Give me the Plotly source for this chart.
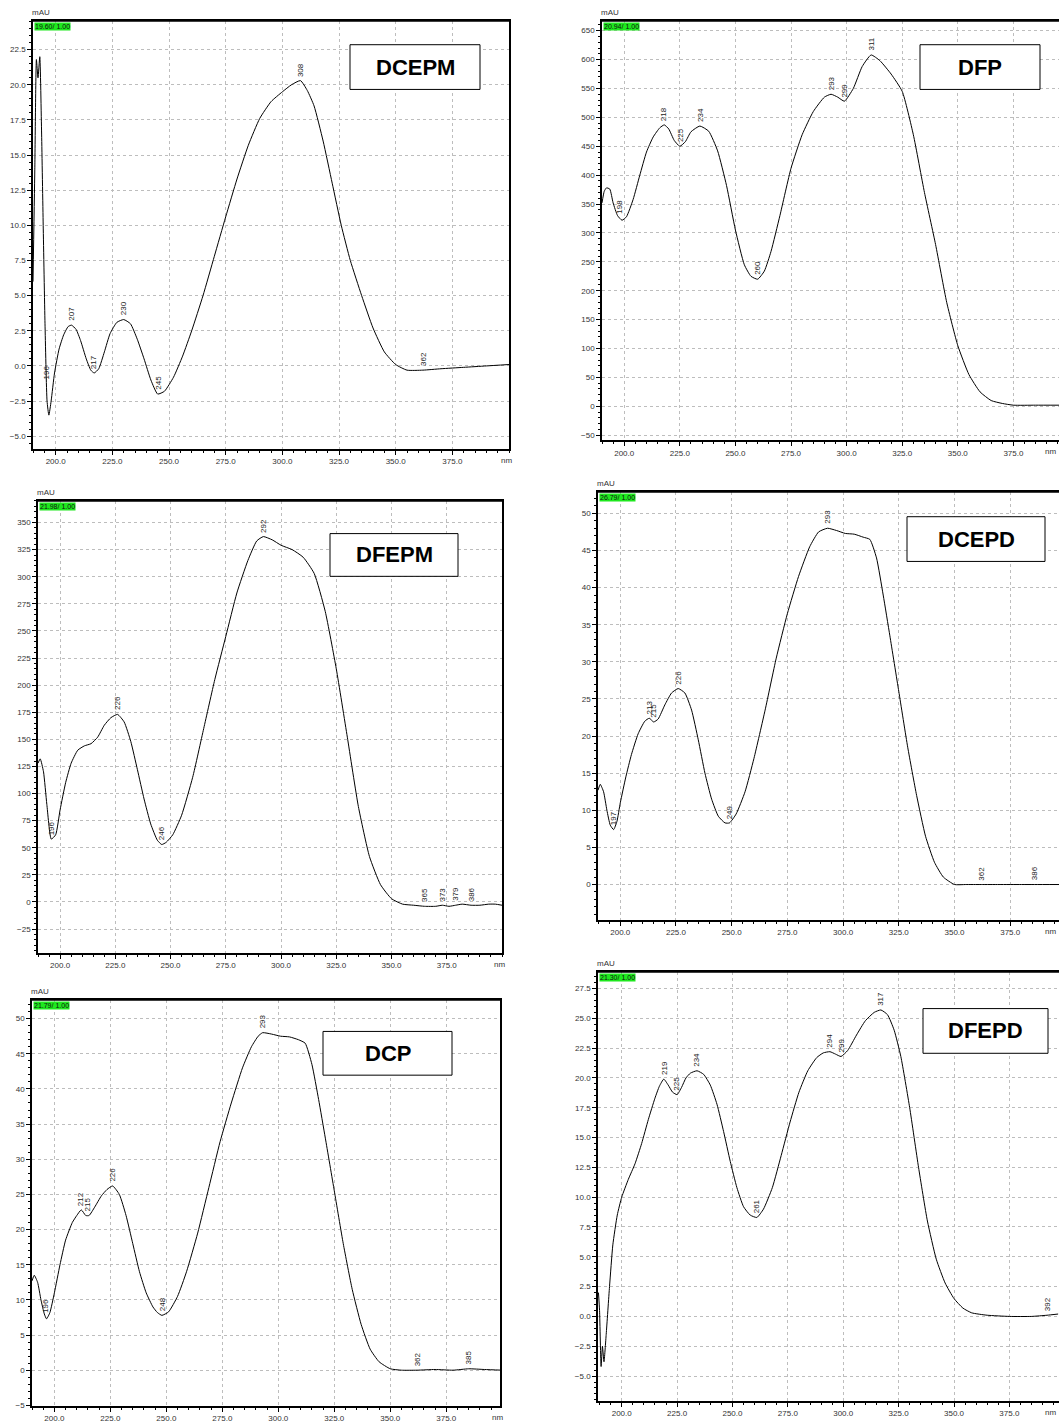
import numpy as np
import plotly.graph_objects as go

W, H = 1059, 1423

# ---- spectra (wavelength in nm, absorbance in mAU) ----
dcepm_nm = [190, 190.8, 191.5, 192.2, 193, 193.8, 194.5, 195.3, 196.2, 197, 198, 199.5, 201.5, 203.5,
            205.5, 207, 209, 211, 213.5, 215.5, 217, 219, 221.5, 224, 227, 230, 233, 236, 239, 242, 245,
            248, 252, 256, 260, 265, 270, 275, 280, 285, 290, 295, 300, 304, 308, 311, 314, 318, 322,
            326, 330, 335, 340, 345, 350, 355, 362, 370, 380, 390, 400]
dcepm_mau = [6.0, 14, 21.8, 20.5, 22.0, 16.5, 10, 3, -2.5, -3.5, -2.5, -0.5, 1.2, 2.2,
             2.8, 2.9, 2.6, 1.8, 0.5, -0.3, -0.5, -0.2, 1.0, 2.3, 3.1, 3.3, 3.0, 1.9, 0.5, -1.0, -2.0,
             -1.8, -0.8, 0.7, 2.5, 5.0, 7.8, 10.6, 13.3, 15.7, 17.6, 18.8, 19.5, 20.0, 20.3, 19.6, 18.5,
             16.0, 13.0, 10.0, 7.5, 5.0, 2.7, 1.0, 0.1, -0.3, -0.3, -0.2, -0.1, 0.0, 0.1]
dcepm_peaks = [196, 207, 217, 230, 245, 308, 362]

dfp_nm = [190, 191, 192, 193.5, 195, 197, 199, 201, 204, 207, 210, 213, 216, 218, 220, 222.5, 225,
          227.5, 230, 234, 238, 242, 246, 250, 254, 257, 260, 263, 266, 270, 275, 280, 285, 290, 293,
          296, 299, 303, 307, 311, 315, 320, 325, 330, 335, 340, 345, 350, 355, 360, 365, 370, 375,
          385, 396]
dfp_mau = [352, 372, 378, 376, 352, 330, 322, 328, 358, 400, 440, 466, 482, 487, 480, 460, 450,
           458, 475, 485, 476, 442, 382, 305, 245, 225, 220, 234, 268, 330, 412, 470, 510, 535, 540,
           535, 528, 550, 588, 608, 598, 575, 545, 470, 370, 280, 180, 105, 55, 25, 10, 5, 2,
           2, 2]
dfp_peaks = [198, 218, 225, 234, 260, 293, 299, 311]

dfepm_nm = [190, 191, 192.5, 194, 196, 198, 200, 202.5, 205, 208, 211, 214, 217, 220, 223, 226, 229,
            232, 235, 238, 241, 244, 246, 248, 251, 255, 260, 265, 270, 275, 280, 285, 289, 292, 296,
            300, 305, 310, 315, 320, 325, 330, 335, 340, 345, 350, 355, 360, 365, 370, 373, 376, 379,
            382, 386, 390, 394, 397, 400]
dfepm_mau = [128, 132, 120, 90, 58, 62, 85, 110, 128, 140, 144, 146, 152, 163, 170, 173, 166,
             148, 122, 95, 72, 57, 53, 55, 62, 80, 115, 160, 205, 245, 285, 315, 333, 337, 334,
             329, 325, 318, 303, 268, 215, 152, 88, 42, 16, 3, -2, -3, -4, -4, -3, -4, -3,
             -2, -3, -3, -2, -2, -3]
dfepm_peaks = [196, 226, 246, 292, 365, 373, 379, 386]

dcepd_nm = [190, 191, 192.5, 194, 195.5, 197, 198.5, 200, 202.5, 205, 208, 211, 213, 215, 217, 220,
            223, 226, 229, 232, 235, 238, 241, 244, 247, 249, 252, 256, 260, 265, 270, 275, 280, 285,
            289, 293, 297, 301, 305, 309, 312, 315, 318, 321, 325, 329, 333, 337, 341, 345, 350, 355,
            362, 370, 380, 386, 397]
dcepd_mau = [12.7, 13.5, 12.5, 10.0, 8.0, 7.4, 8.5, 11.0, 14.5, 17.5, 20.3, 22.0, 22.4, 21.9, 22.3,
             24.2, 25.8, 26.4, 25.8, 23.5, 19.5, 15.0, 11.5, 9.2, 8.3, 8.3, 9.5, 12.5, 17.0, 23.5,
             30.5, 36.5, 41.5, 45.5, 47.5, 48.0, 47.7, 47.3, 47.2, 46.8, 46.5, 44.0, 39.0, 33.5,
             26.0, 18.5, 12.0, 6.5, 3.0, 1.0, 0.0, 0.0, 0.0, 0.0, 0.0, 0.0, 0.0]
dcepd_peaks = [197, 213, 215, 226, 249, 293, 362, 386]

dcp_nm = [190, 191, 192.5, 194, 195.5, 196.5, 198, 200, 202.5, 205, 208, 210, 212, 214, 215.5, 218,
          221, 223.5, 226, 229, 232, 235, 238, 241, 244, 246, 248, 251, 255, 259, 264, 269, 274, 279,
          284, 288, 291, 293, 297, 301, 305, 309, 312, 315, 318, 321, 325, 329, 333, 337, 341, 345,
          350, 355, 362, 370, 378, 385, 392, 400]
dcp_mau = [12.7, 13.5, 12.5, 10.0, 8.0, 7.3, 8.2, 11.0, 15.0, 18.5, 21.0, 22.0, 22.8, 22.0, 22.0,
           23.2, 24.8, 25.7, 26.2, 25.0, 22.0, 18.0, 14.0, 11.0, 9.0, 8.2, 7.8, 8.3, 10.5, 14.0,
           19.5, 26.0, 32.5, 38.0, 43.0, 46.0, 47.5, 48.0, 47.8, 47.5, 47.4, 47.0, 46.5, 43.5,
           38.5, 33.0, 25.5, 18.0, 11.5, 6.5, 3.0, 1.2, 0.2, 0.0, 0.0, 0.1, 0.0, 0.2, 0.1, 0.0]
dcp_peaks = [196, 212, 215, 226, 248, 293, 362, 385]

dfepd_nm = [189.5, 190, 190.7, 191.3, 192, 193, 194.5, 196, 198, 200, 203, 206, 209, 212, 215, 217,
            219, 221, 223, 225, 227, 229, 231, 234, 237, 240, 243, 246, 249, 252, 255, 258, 261, 264,
            268, 272, 276, 280, 284, 288, 291, 294, 296.5, 299, 302, 306, 310, 314, 317, 320, 323,
            326, 330, 334, 338, 342, 346, 350, 354, 358, 365, 375, 385, 392, 397]
dfepd_mau = [2, 0.5, -4.2, -2.5, -3.8, -1.5, 2.5, 6.0, 8.5, 10.0, 11.5, 12.8, 14.5, 16.5, 18.3, 19.3,
             19.9, 19.4, 18.8, 18.6, 19.2, 20.0, 20.4, 20.6, 20.3, 19.4, 17.8, 15.5, 13.0, 10.8, 9.2,
             8.5, 8.3, 9.0, 10.8, 13.5, 16.3, 18.8, 20.6, 21.7, 22.1, 22.2, 22.0, 21.8, 22.3, 23.6,
             24.8, 25.5, 25.7, 25.3, 24.0, 21.8, 17.5, 12.5, 8.0, 4.8, 2.8, 1.5, 0.7, 0.3, 0.1, 0.0,
             0.0, 0.1, 0.2]
dfepd_peaks = [219, 225, 234, 261, 294, 299, 317, 392]

x_ticks = [200, 225, 250, 275, 300, 325, 350, 375]

# ---- panel layout (pixel boxes: left, top, right, bottom) ----
panels = [
    dict(title="DCEPM", nm=dcepm_nm, mau=dcepm_mau, peaks=dcepm_peaks, rt="19.60/ 1.00",
         plot=(33, 21, 509, 452), xr=[190, 400], yr=[-5.92, 24.55], dy=2.5, my=0.5, fmt=".1f",
         box=(350, 45, 480, 90), cut=False),
    dict(title="DFP", nm=dfp_nm, mau=dfp_mau, peaks=dfp_peaks, rt="20.94/ 1.00",
         plot=(602, 21, 1059, 443), xr=[190, 395.5], yr=[-58.6, 667], dy=50, my=10, fmt="d",
         box=(920, 45, 1040, 90), cut=True),
    dict(title="DFEPM", nm=dfepm_nm, mau=dfepm_mau, peaks=dfepm_peaks, rt="21.98/ 1.00",
         plot=(38, 504, 502, 959), xr=[190, 400], yr=[-47, 370], dy=25, my=5, fmt="d",
         box=(330, 537, 458, 580), cut=False),
    dict(title="DCEPD", nm=dcepd_nm, mau=dcepd_mau, peaks=dcepd_peaks, rt="26.79/ 1.00",
         plot=(598, 495, 1059, 926), xr=[190, 396.9], yr=[-4.8, 52.9], dy=5, my=1, fmt="d",
         box=(907, 520, 1045, 565), cut=True),
    dict(title="DCP", nm=dcp_nm, mau=dcp_mau, peaks=dcp_peaks, rt="21.79/ 1.00",
         plot=(32, 1006, 500, 1415), xr=[190, 399], yr=[-5.1, 52.7], dy=5, my=1, fmt="d",
         box=(323, 1038, 452, 1082), cut=False),
    dict(title="DFEPD", nm=dfepd_nm, mau=dfepd_mau, peaks=dfepd_peaks, rt="21.30/ 1.00",
         plot=(598, 978, 1059, 1410), xr=[189.3, 397.4], yr=[-7.1, 28.9], dy=2.5, my=0.5, fmt=".1f",
         box=(923, 1015, 1048, 1060), cut=True),
]


def px(x):
    return x / W


def py(y):
    return 1 - y / H


fig = go.Figure()
annotations = []
shapes = []
font_family = "Liberation Sans, Arial, sans-serif"
tick_font = dict(family=font_family, size=8, color="#333")
grid = "#bdbdbd"

for i, p in enumerate(panels, start=1):
    sx = "" if i == 1 else str(i)
    xa, ya = "x" + sx, "y" + sx
    l, t, r, b = p["plot"]
    fig.add_trace(go.Scatter(x=p["nm"], y=p["mau"], mode="lines", xaxis=xa, yaxis=ya,
                             line=dict(color="black", width=1, shape="spline", smoothing=0.5),
                             hoverinfo="skip", showlegend=False))
    ylo = np.ceil(p["yr"][0] / p["dy"]) * p["dy"]
    fig.layout["xaxis" + sx] = dict(
        domain=[px(l), min(px(r), 1.0)], anchor=ya, range=p["xr"],
        tickvals=x_ticks, tickformat=".1f", ticks="outside", ticklen=4, tickcolor="black",
        tickfont=tick_font, showline=True, linecolor="black", linewidth=1.5,
        mirror=True, showgrid=True, gridcolor=grid, griddash="3px,3px", gridwidth=1,
        zeroline=False, fixedrange=True,
        minor=dict(ticks="outside", ticklen=2, dtick=5, tick0=0, tickcolor="black", showgrid=False),
    )
    fig.layout["yaxis" + sx] = dict(
        domain=[py(b), py(t)], anchor=xa, range=p["yr"],
        tick0=ylo, dtick=p["dy"], tickformat=p["fmt"], ticks="outside", ticklen=4,
        tickcolor="black", tickfont=tick_font, showline=True, linecolor="black", linewidth=1.5,
        mirror=False if p["cut"] else True, showgrid=True, gridcolor=grid, griddash="3px,3px",
        gridwidth=1, zeroline=False, fixedrange=True,
        minor=dict(ticks="outside", ticklen=2, dtick=p["my"], tick0=0, tickcolor="black",
                   showgrid=False),
    )
    # heavier top frame line
    shapes.append(dict(type="line", xref="paper", yref="paper", x0=px(l), x1=min(px(r), 1.0),
                       y0=py(t), y1=py(t), line=dict(color="black", width=2)))

    # unit label above the y axis
    annotations.append(dict(text="mAU", xref="paper", yref="paper", x=px(l - 3), y=py(t - 2),
                            xanchor="left", yanchor="bottom", showarrow=False,
                            font=dict(family=font_family, size=8, color="#333")))
    # green retention-time tag
    annotations.append(dict(text=p["rt"], xref="paper", yref="paper", x=px(l + 1), y=py(t + 1),
                            xanchor="left", yanchor="top", showarrow=False, bgcolor="#1ee81e",
                            borderpad=0, font=dict(family=font_family, size=7, color="#111")))
    # "nm" unit at the end of the x axis
    if p["cut"]:
        annotations.append(dict(text="nm", xref="paper", yref="paper", x=px(1058), y=py(b + 5),
                                xanchor="right", yanchor="top", showarrow=False, font=tick_font))
    else:
        annotations.append(dict(text="nm", xref="paper", yref="paper", x=px(r - 10), y=py(b + 5),
                                xanchor="left", yanchor="top", showarrow=False, font=tick_font))
    # sample name box
    bx0, by0, bx1, by1 = p["box"]
    shapes.append(dict(type="rect", xref="paper", yref="paper", x0=px(bx0), x1=px(bx1),
                       y0=py(by1), y1=py(by0), line=dict(color="black", width=1),
                       fillcolor="white", layer="above"))
    annotations.append(dict(text="<b>%s</b>" % p["title"], xref="paper", yref="paper",
                            x=px((bx0 + bx1) / 2), y=py((by0 + by1) / 2), xanchor="center",
                            yanchor="middle", showarrow=False,
                            font=dict(family=font_family, size=22, color="black")))
    # peak wavelength labels
    for pk in p["peaks"]:
        val = float(np.interp(pk, p["nm"], p["mau"]))
        annotations.append(dict(text=str(pk), xref=xa, yref=ya, x=pk, y=val, textangle=-90,
                                xanchor="center", yanchor="bottom", yshift=2, showarrow=False,
                                font=dict(family=font_family, size=8, color="#222")))

fig.update_layout(width=W, height=H, margin=dict(l=0, r=0, t=0, b=0),
                  paper_bgcolor="white", plot_bgcolor="white",
                  annotations=annotations, shapes=shapes)
fig.write_html("out.html")
